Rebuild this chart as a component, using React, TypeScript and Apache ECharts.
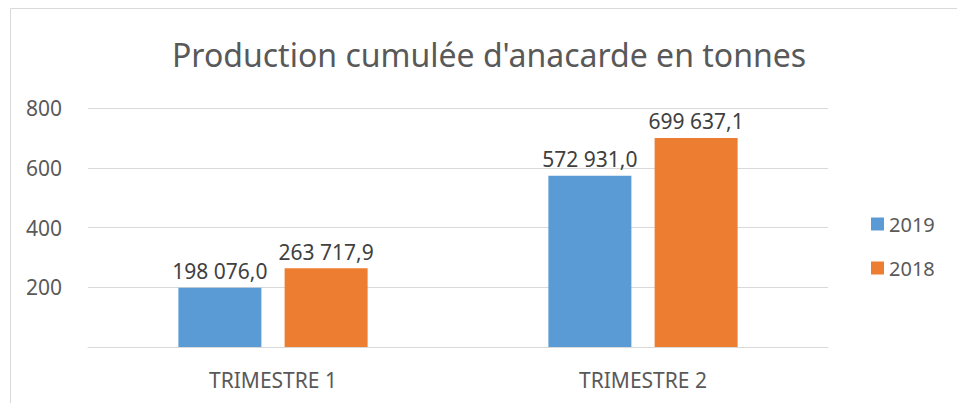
import React, { useEffect, useRef } from "react";
import * as echarts from "echarts";

const categories = ["TRIMESTRE 1", "TRIMESTRE 2"];
const series2019 = [198076.0, 572931.0];
const series2018 = [263717.9, 699637.1];
const seriesNames = ["2019", "2018"];
const titleText = "Production cumulée d'anacarde en tonnes";

const FONT = "'Noto Sans', sans-serif";
const GRAY = "#595959";

function fmt(v: number): string {
  const parts = v.toFixed(1).split(".");
  const intPart = parts[0].replace(/\B(?=(\d{3})+(?!\d))/g, " ");
  return intPart + "," + parts[1];
}

export default function App() {
  const ref = useRef<HTMLDivElement>(null);
  useEffect(() => {
    if (!ref.current) return;
    const chart = echarts.init(ref.current, undefined, { renderer: "svg" });
    const label = {
      show: true,
      position: "top" as const,
      distance: 6,
      fontFamily: FONT,
      fontSize: 21,
      color: "#404040",
      formatter: (p: any) => fmt(p.value),
    };
    chart.setOption({
      animation: false,
      backgroundColor: "#ffffff",
      textStyle: { fontFamily: FONT },
      title: {
        text: titleText,
        left: 167,
        top: 33,
        textStyle: { fontFamily: FONT, fontSize: 32, fontWeight: "normal", color: GRAY },
      },
      graphic: [
        {
          type: "rect",
          shape: { x: 10.5, y: 8.5, width: 960, height: 400 },
          style: { fill: "none", stroke: "#d9d9d9", lineWidth: 1 },
          silent: true,
        },
      ],
      legend: {
        orient: "vertical",
        left: 866,
        top: 209,
        itemWidth: 13,
        itemHeight: 13,
        itemGap: 24,
        icon: "rect",
        textStyle: { fontFamily: FONT, fontSize: 20, color: GRAY },
        data: seriesNames,
      },
      grid: { left: 88, right: 129, top: 108, bottom: 56 },
      xAxis: {
        type: "category",
        data: categories,
        axisLine: { show: true, lineStyle: { color: "#d9d9d9" } },
        axisTick: { show: false },
        axisLabel: { fontFamily: FONT, fontSize: 21, color: GRAY, margin: 22 },
      },
      yAxis: {
        type: "value",
        min: 0,
        max: 800000,
        interval: 200000,
        axisLine: { show: false },
        axisTick: { show: false },
        splitLine: { lineStyle: { color: "#d9d9d9" } },
        axisLabel: {
          fontFamily: FONT,
          fontSize: 21,
          color: GRAY,
          margin: 26,
          formatter: (v: number) => (v === 0 ? "" : String(v / 1000)),
        },
      },
      series: [
        {
          name: seriesNames[0],
          type: "bar",
          data: series2019,
          barWidth: 83,
          barGap: "28%",
          itemStyle: { color: "#5b9bd5" },
          label,
        },
        {
          name: seriesNames[1],
          type: "bar",
          data: series2018,
          barWidth: 83,
          barGap: "28%",
          itemStyle: { color: "#ed7d31" },
          label,
        },
      ],
    });
    return () => chart.dispose();
  }, []);
  return (
    <div
      ref={ref}
      style={{ position: "fixed", left: 0, top: 0, width: 957, height: 403 }}
    />
  );
}
